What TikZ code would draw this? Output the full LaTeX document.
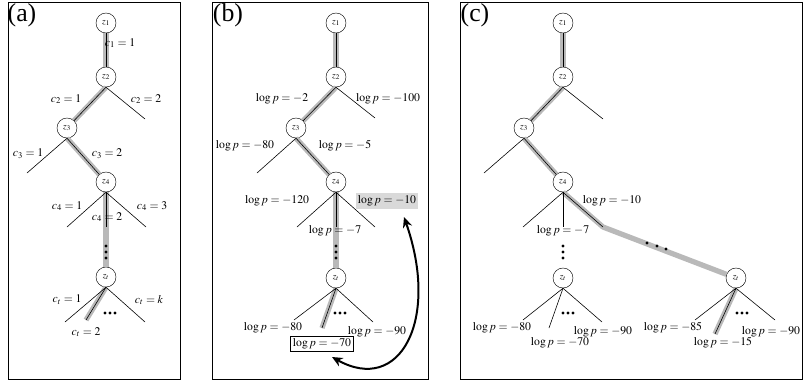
\documentclass[tikz,border=0pt]{standalone}
\usepackage{mathptmx}
\usepackage{fontspec}
\setmainfont{Liberation Serif}
\usetikzlibrary{arrows.meta}

\tikzset{
	zn/.style={circle,draw,fill=white,inner sep=0pt,minimum size=0.6cm,font=\footnotesize},
	br/.style={line width=0.5pt},
	hl/.style={line width=4.5pt,gray!55},
	lab/.style={inner sep=0pt,font=\normalsize},
	panel/.style={inner sep=0pt,font=\fontsize{22}{26}\selectfont},
	frm/.style={line width=0.8pt},
	vdot/.style={fill=black},
}

\begin{document}
\begin{tikzpicture}[x=0.03cm,y=-0.03cm]
\useasboundingbox (0,0) rectangle (804,381);

% frames
\draw[frm] (8,2) rectangle (180,379);
\draw[frm] (212,2) rectangle (428,379);
\draw[frm] (460,2) rectangle (802,379);
\node[panel] (pa) at (22,15) {(a)};
\node[panel] (pb) at (228,15) {(b)};
\node[panel] (pc) at (475,15) {(c)};

%%% (a)
\node[zn] (a1) at (106,23) {$z_1$};
\node[zn] (a2) at (106,77) {$z_2$};
\node[zn] (a3) at (67,128) {$z_3$};
\node[zn] (a4) at (106,182) {$z_4$};
\node[zn] (at) at (106,277) {$z_t$};
\coordinate (a2r) at (145,119);
\coordinate (a3l) at (27,173);
\coordinate (a4l) at (67,227);
\coordinate (a4m) at (106,227);
\coordinate (a4r) at (146,227);
\coordinate (atl) at (65,322);
\coordinate (atm) at (86,320);
\coordinate (atr) at (145,322);
\draw[hl] (a1.south) -- (a2.north);
\draw[hl] (a2.south) -- (a3);
\draw[hl] (a3.south) -- (a4);
\draw[hl] (a4.south) -- (at.north);
\draw[hl] (at.south) -- (atm);
\draw[br] (a1.south) -- (a2.north);
\draw[br] (a2.south) -- (a3);
\draw[br] (a3.south) -- (a4);
\draw[br] (a2.south) -- (a2r);
\draw[br] (a3.south) -- (a3l);
\draw[br] (a4.south) -- (a4l);
\draw[br] (a4.south) -- (a4m);
\draw[br] (a4.south) -- (a4r);
\draw[br] (at.south) -- (atl);
\draw[br] (at.south) -- (atm);
\draw[br] (at.south) -- (atr);
\node[lab] (ca1) at (120,43) {$c_1=1$};
\node[lab] (ca21) at (66,99) {$c_2=1$};
\node[lab] (ca22) at (146,99) {$c_2=2$};
\node[lab] (ca31) at (28,154) {$c_3=1$};
\node[lab] (ca32) at (107,154) {$c_3=2$};
\node[lab] (ca41) at (67,206) {$c_4=1$};
\node[lab] (ca42) at (107,217) {$c_4=2$};
\node[lab] (ca43) at (152,206) {$c_4=3$};
\node[lab] (cat1) at (67,300) {$c_t=1$};
\node[lab] (catk) at (149,300) {$c_t=k$};
\node[lab] (cat2) at (86,332) {$c_t=2$};
\fill[vdot] (106,246) circle (1.3pt) (106,252) circle (1.3pt) (106,258) circle (1.3pt);
\fill[vdot] (105,313) circle (1.3pt) (110,313) circle (1.3pt) (115,313) circle (1.3pt);

%%% (b)
\node[zn] (b1) at (336,23) {$z_1$};
\node[zn] (b2) at (336,77) {$z_2$};
\node[zn] (b3) at (296,128) {$z_3$};
\node[zn] (b4) at (336,182) {$z_4$};
\node[zn] (bt) at (336,278) {$z_t$};
\coordinate (b2r) at (375,118);
\coordinate (b3l) at (257,173);
\coordinate (b4l) at (297,227);
\coordinate (b4m) at (336,227);
\coordinate (b4r) at (375,227);
\coordinate (btl) at (294,320);
\coordinate (btm) at (322,328);
\coordinate (btr) at (373,322);
\draw[hl] (b1.south) -- (b2.north);
\draw[hl] (b2.south) -- (b3);
\draw[hl] (b3.south) -- (b4);
\draw[hl] (b4.south) -- (bt.north);
\draw[hl] (bt.south) -- (btm);
\draw[br] (b1.south) -- (b2.north);
\draw[br] (b2.south) -- (b3);
\draw[br] (b3.south) -- (b4);
\draw[br] (b2.south) -- (b2r);
\draw[br] (b3.south) -- (b3l);
\draw[br] (b4.south) -- (b4l);
\draw[br] (b4.south) -- (b4m);
\draw[br] (b4.south) -- (b4r);
\draw[br] (bt.south) -- (btl);
\draw[br] (bt.south) -- (btm);
\draw[br] (bt.south) -- (btr);
\node[lab] (pb2) at (282,99) {$\log p=-2$};
\node[lab] (pb100) at (388,99) {$\log p=-100$};
\node[lab] (pb80) at (245,146) {$\log p=-80$};
\node[lab] (pb5) at (345,146) {$\log p=-5$};
\node[lab] (pb120) at (277,201) {$\log p=-120$};
\node[lab,fill=gray!30,inner sep=2pt] (pb10) at (387,201) {$\log p=-10$};
\node[lab] (pb7) at (335,231) {$\log p=-7$};
\node[lab] (pb80b) at (273,328) {$\log p=-80$};
\node[lab] (pb90) at (377,332) {$\log p=-90$};
\node[lab,draw,fill=white,line width=0.6pt,inner sep=2pt] (pb70) at (322,344) {$\log p=-70$};
\fill[vdot] (336,246) circle (1.3pt) (336,252) circle (1.3pt) (336,258) circle (1.3pt);
\fill[vdot] (335,313) circle (1.3pt) (340,313) circle (1.3pt) (345,313) circle (1.3pt);
\coordinate (arrA) at (332,357);
\coordinate (arrB) at (404,217);
\draw[line width=1.7pt,{Stealth[length=9pt,width=8pt]}-{Stealth[length=9pt,width=8pt]}]
	(arrA) .. controls (400,395) and (440,320) .. (arrB);

%%% (c)
\node[zn] (c1) at (563,23) {$z_1$};
\node[zn] (c2) at (563,77) {$z_2$};
\node[zn] (c3) at (524,128) {$z_3$};
\node[zn] (c4) at (563,182) {$z_4$};
\node[zn] (ct) at (563,278) {$z_t$};
\node[zn] (cu) at (736,278) {$z_t$};
\coordinate (c2r) at (603,119);
\coordinate (c3l) at (484,173);
\coordinate (c4l) at (523,227);
\coordinate (c4m) at (563,227);
\coordinate (c4r) at (603,227);
\coordinate (ctl) at (523,320);
\coordinate (ctm) at (549,328);
\coordinate (ctr) at (602,322);
\coordinate (cul) at (695,320);
\coordinate (cum) at (715,334);
\coordinate (cur) at (775,320);
\draw[hl] (c1.south) -- (c2.north);
\draw[hl] (c2.south) -- (c3);
\draw[hl] (c3.south) -- (c4);
\draw[hl] (c4.south) -- (c4r) -- (cu);
\draw[hl] (cu.south) -- (cum);
\draw[br] (c1.south) -- (c2.north);
\draw[br] (c2.south) -- (c3);
\draw[br] (c3.south) -- (c4);
\draw[br] (c2.south) -- (c2r);
\draw[br] (c3.south) -- (c3l);
\draw[br] (c4.south) -- (c4l);
\draw[br] (c4.south) -- (c4m);
\draw[br] (c4.south) -- (c4r);
\draw[br] (ct.south) -- (ctl);
\draw[br] (ct.south) -- (ctm);
\draw[br] (ct.south) -- (ctr);
\draw[br] (cu.south) -- (cul);
\draw[br] (cu.south) -- (cum);
\draw[br] (cu.south) -- (cur);
\node[lab] (pc10) at (612,201) {$\log p=-10$};
\node[lab] (pc7) at (563,231) {$\log p=-7$};
\node[lab] (pc80) at (502,328) {$\log p=-80$};
\node[lab] (pc70) at (560,343) {$\log p=-70$};
\node[lab] (pc90) at (603,332) {$\log p=-90$};
\node[lab] (pc85) at (673,328) {$\log p=-85$};
\node[lab] (pc15) at (723,343) {$\log p=-15$};
\node[lab] (pc90b) at (771,332) {$\log p=-90$};
\fill[vdot] (563,246) circle (1.3pt) (563,252) circle (1.3pt) (563,258) circle (1.3pt);
\fill[vdot] (563,313) circle (1.3pt) (568,313) circle (1.3pt) (573,313) circle (1.3pt);
\fill[vdot] (737,313) circle (1.3pt) (742,313) circle (1.3pt) (747,313) circle (1.3pt);
\fill[vdot] (647,243) circle (1.3pt) (657,246) circle (1.3pt) (666,249) circle (1.3pt);
\end{tikzpicture}
\end{document}
